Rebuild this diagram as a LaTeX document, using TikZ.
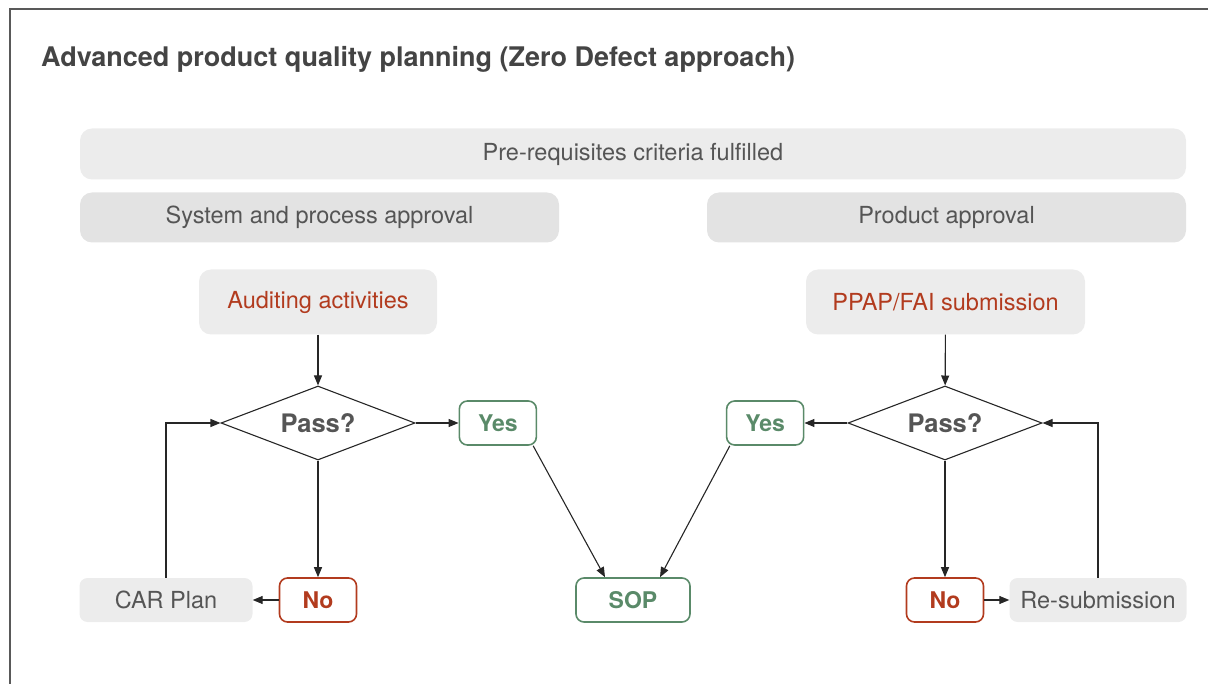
\documentclass[tikz,border=0pt]{standalone}
\usepackage{fontspec}
\setmainfont{TeX Gyre Heros}
\usetikzlibrary{positioning, shapes.geometric, arrows.meta}

\definecolor{boxgray}{HTML}{ECECEC}
\definecolor{headgray}{HTML}{E3E3E3}
\definecolor{txtgray}{HTML}{555555}
\definecolor{titlegray}{HTML}{444444}
\definecolor{taskred}{HTML}{B23B1E}
\definecolor{yesgreen}{HTML}{5A8A69}

\tikzstyle{Arrow} = [line width=1.1pt, draw=black!85,
-{Triangle[length=10pt, width=8pt]}]
\tikzstyle{Frame} = [line width=1.5pt, draw=black!65]
\tikzstyle{Bar} = [rectangle, rounded corners=12pt, fill=boxgray, text=txtgray,
inner sep=0pt, font=\fontsize{23.5}{27}\selectfont]
\tikzstyle{Head} = [Bar, fill=headgray, minimum width=479pt, minimum height=50pt]
\tikzstyle{Task} = [Bar, text=taskred, minimum height=65pt]
\tikzstyle{Side} = [Bar, rounded corners=8pt, minimum height=44pt]
\tikzstyle{Decision} = [diamond, draw=black!85, line width=1.1pt, aspect=2.6,
minimum width=194pt, minimum height=74pt, inner sep=0pt, text=txtgray,
font=\fontsize{25.5}{29}\selectfont\bfseries]
\tikzstyle{Answer} = [rectangle, rounded corners=8pt, line width=1.6pt,
minimum width=77pt, minimum height=44pt, inner sep=0pt,
font=\fontsize{23}{26}\selectfont\bfseries]
\tikzstyle{Yes} = [Answer, draw=yesgreen, text=yesgreen]
\tikzstyle{No} = [Answer, draw=taskred, text=taskred]

\begin{document}
\begin{tikzpicture}[x=1pt, y=-1pt]
    \useasboundingbox (0,0) rectangle (1208,684);
    \draw[Frame] (1208,9) -- (10,9) -- (10,684);
    \node (0) [anchor=west, text=titlegray, inner sep=0pt,
        font=\fontsize{27}{31}\selectfont\bfseries] at (41,59)
        {Advanced product quality planning (Zero Defect approach)};
    \node (1) [Bar, minimum width=1106pt, minimum height=51pt] at (633,154)
        {Pre-requisites criteria fulfilled};
    \node (2) [Head] at (319.5,217.5) {System and process approval};
    \node (3) [Head] at (946.5,217.5) {Product approval};
    \node (4) [Task, minimum width=238pt] at (318,302) {Auditing activities};
    \node (5) [Task, minimum width=279pt] at (945.5,302) {PPAP/FAI submission};
    \node (6) [Decision] at (318,423) {Pass?};
    \node (7) [Decision] at (945,423) {Pass?};
    \node (8) [Yes, right=43pt of 6] {Yes};
    \node (9) [Yes, left=43pt of 7] {Yes};
    \node (10) [No] at (318,600) {No};
    \node (11) [Side, minimum width=173pt, left=26pt of 10] {CAR Plan};
    \node (12) [No] at (945,600) {No};
    \node (13) [Side, minimum width=177pt, right=25pt of 12] {Re-submission};
    \node (14) [Yes, minimum width=114pt] at (633,600) {SOP};
    \draw[Arrow] (4) -- (6);
    \draw[Arrow] (6) -- (8);
    \draw[Arrow] (6) -- (10);
    \draw[Arrow] (10) -- (11);
    \draw[Arrow] (11.north) |- (6.west);
    \draw[Arrow] (5) -- (7);
    \draw[Arrow] (7) -- (9);
    \draw[Arrow] (7) -- (12);
    \draw[Arrow] (12) -- (13);
    \draw[Arrow] (13.north) |- (7.east);
    \draw[Arrow] ([xshift=-4pt]8.south east) -- ([xshift=-28pt]14.north);
    \draw[Arrow] ([xshift=4pt]9.south west) -- ([xshift=27pt]14.north);
\end{tikzpicture}
\end{document}
